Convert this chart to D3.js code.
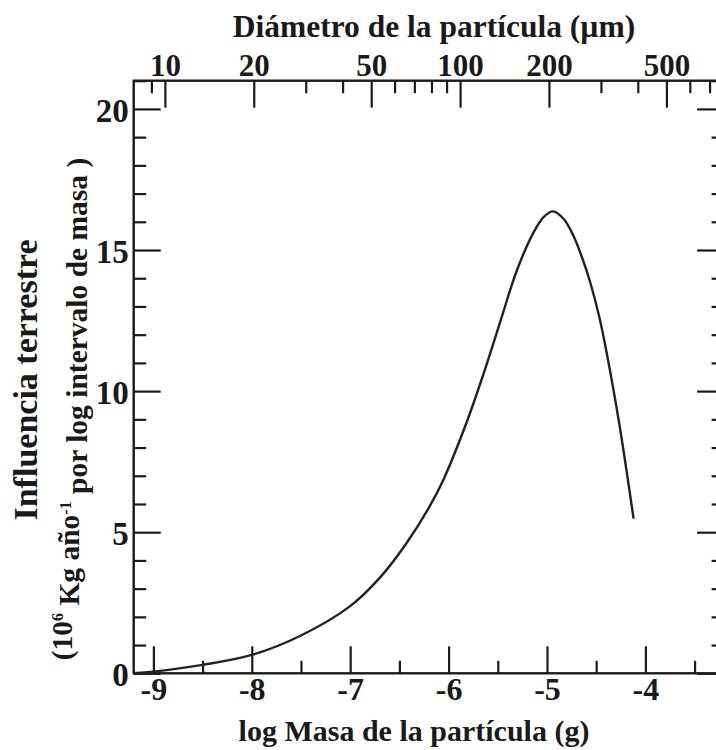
<!DOCTYPE html>
<html>
<head>
<meta charset="utf-8">
<script src="https://cdn.jsdelivr.net/npm/d3@7/dist/d3.min.js"></script>
<style>
  html, body { margin: 0; padding: 0; background: #fff; }
  svg { display: block; }
  text { font-family: "Liberation Serif", "Times New Roman", serif; font-weight: bold; fill: #1a1a1a; }
</style>
</head>
<body>
<svg id="chart" width="716" height="750"></svg>
<script>
// ---- data ----
const logMass = [-9.2, -9.0, -8.5, -8.0, -7.5, -7.0, -6.7, -6.43, -6.19, -6.05, -5.82, -5.65, -5.48, -5.31, -5.14, -5.03, -4.94, -4.83, -4.73, -4.64, -4.56, -4.47, -4.39, -4.26, -4.12];
const influx  = [0.0, 0.06, 0.30, 0.65, 1.34, 2.38, 3.38, 4.6, 5.93, 6.88, 8.86, 10.56, 12.4, 14.24, 15.6, 16.18, 16.37, 16.1, 15.5, 14.7, 13.85, 12.65, 11.3, 8.73, 5.48];

const massTicksMajor = [-9, -8, -7, -6, -5, -4];
const massTicksMinor = [-8.5, -7.5, -6.5, -5.5, -4.5, -3.5];
const yTicksMajor = [0, 5, 10, 15, 20];
const yTicksMinor = [1, 2, 3, 4, 6, 7, 8, 9, 11, 12, 13, 14, 16, 17, 18, 19, 21];
const diamTicksMajor = [10, 20, 50, 100, 200, 500];
const diamTicksMinor = [9, 30, 40, 60, 70, 80, 90, 300, 400, 600, 700];

const massDomain = [-9.2, -3.2];
const yDomain = [0, 21];
const density = 2.5; // g/cm^3, sphere mass <-> diameter

// ---- layout ----
const L = 133.7, T = 80.7, R = 724.1, B = 673.3;
const svg = d3.select("#chart");

const x = d3.scaleLinear().domain(massDomain).range([L, R]);
const y = d3.scaleLinear().domain(yDomain).range([B, T]);
// diameter (µm) from log mass (g)
const diamFromLogMass = lm => Math.cbrt(Math.pow(10, lm) * 6 / (Math.PI * density)) * 1e4;
const xd = d3.scaleLog().domain(massDomain.map(diamFromLogMass)).range([L, R]);

const MAJ = 27, MIN = 12.5;

function ax(gen, transform, vals, size, labels, fs, pad) {
  const g = svg.append("g").attr("transform", transform)
    .call(gen.tickValues(vals).tickSize(-size).tickPadding(pad || 6)
      .tickFormat(labels ? (d => d3.format("d")(d)) : () => ""));
  g.select(".domain").remove();
  g.selectAll(".tick line").attr("stroke", "#1a1a1a").attr("stroke-width", 2.2);
  g.selectAll(".tick text").style("font-size", (fs || 30) + "px")
    .style("font-family", '"Liberation Serif", serif').style("font-weight", "bold").attr("fill", "#1a1a1a");
  return g;
}

// bottom
const gb = ax(d3.axisBottom(x), `translate(0,${B})`, massTicksMajor, MAJ, true, 32, 4);
gb.selectAll(".tick text").text(d => d < 0 ? "-" + Math.abs(d) : d);
ax(d3.axisBottom(x), `translate(0,${B})`, massTicksMinor, MIN, false);
// top
ax(d3.axisTop(xd), `translate(0,${T})`, diamTicksMajor, MAJ, true, 31, 5);
ax(d3.axisTop(xd), `translate(0,${T})`, diamTicksMinor, MIN, false);
// left
const gl = ax(d3.axisLeft(y), `translate(${L},0)`, yTicksMajor, MAJ, true, 33, 5);
gl.selectAll(".tick text").attr("dy", "0.38em");
ax(d3.axisLeft(y), `translate(${L},0)`, yTicksMinor, MIN, false);
// right
ax(d3.axisRight(y), `translate(${R},0)`, yTicksMajor, MAJ, false);
ax(d3.axisRight(y), `translate(${R},0)`, yTicksMinor, MIN, false);

// frame
svg.append("rect").attr("x", L).attr("y", T).attr("width", R - L).attr("height", B - T)
  .attr("fill", "none").attr("stroke", "#1a1a1a").attr("stroke-width", 2.4);

// curve
const pts = logMass.map((m, i) => [m, influx[i]]);
svg.append("path").datum(pts)
  .attr("fill", "none").attr("stroke", "#222").attr("stroke-width", 2.4)
  .attr("d", d3.line().x(d => x(d[0])).y(d => y(d[1])).curve(d3.curveCatmullRom.alpha(0.5)));

// titles
svg.append("text").attr("x", 434).attr("y", 37).attr("text-anchor", "middle")
  .style("font-size", "31.5px").text("Diámetro de la partícula (µm)");
svg.append("text").attr("x", 414).attr("y", 741).attr("text-anchor", "middle")
  .style("font-size", "30px").text("log Masa de la partícula (g)");

svg.append("text").attr("transform", "translate(37,380) rotate(-90)")
  .attr("text-anchor", "middle").style("font-size", "34px").text("Influencia terrestre");
const yt2 = svg.append("text").attr("transform", "translate(72,409) rotate(-90)")
  .attr("text-anchor", "middle").style("font-size", "29.5px");
yt2.append("tspan").text("(10");
yt2.append("tspan").attr("dy", "-0.55em").style("font-size", "16px").text("6");
yt2.append("tspan").attr("dy", "0.55em").text(" Kg año");
yt2.append("tspan").attr("dy", "-0.55em").style("font-size", "16px").text("-1");
yt2.append("tspan").attr("dy", "0.55em").text(" por log intervalo de masa )");
</script>
</body>
</html>
